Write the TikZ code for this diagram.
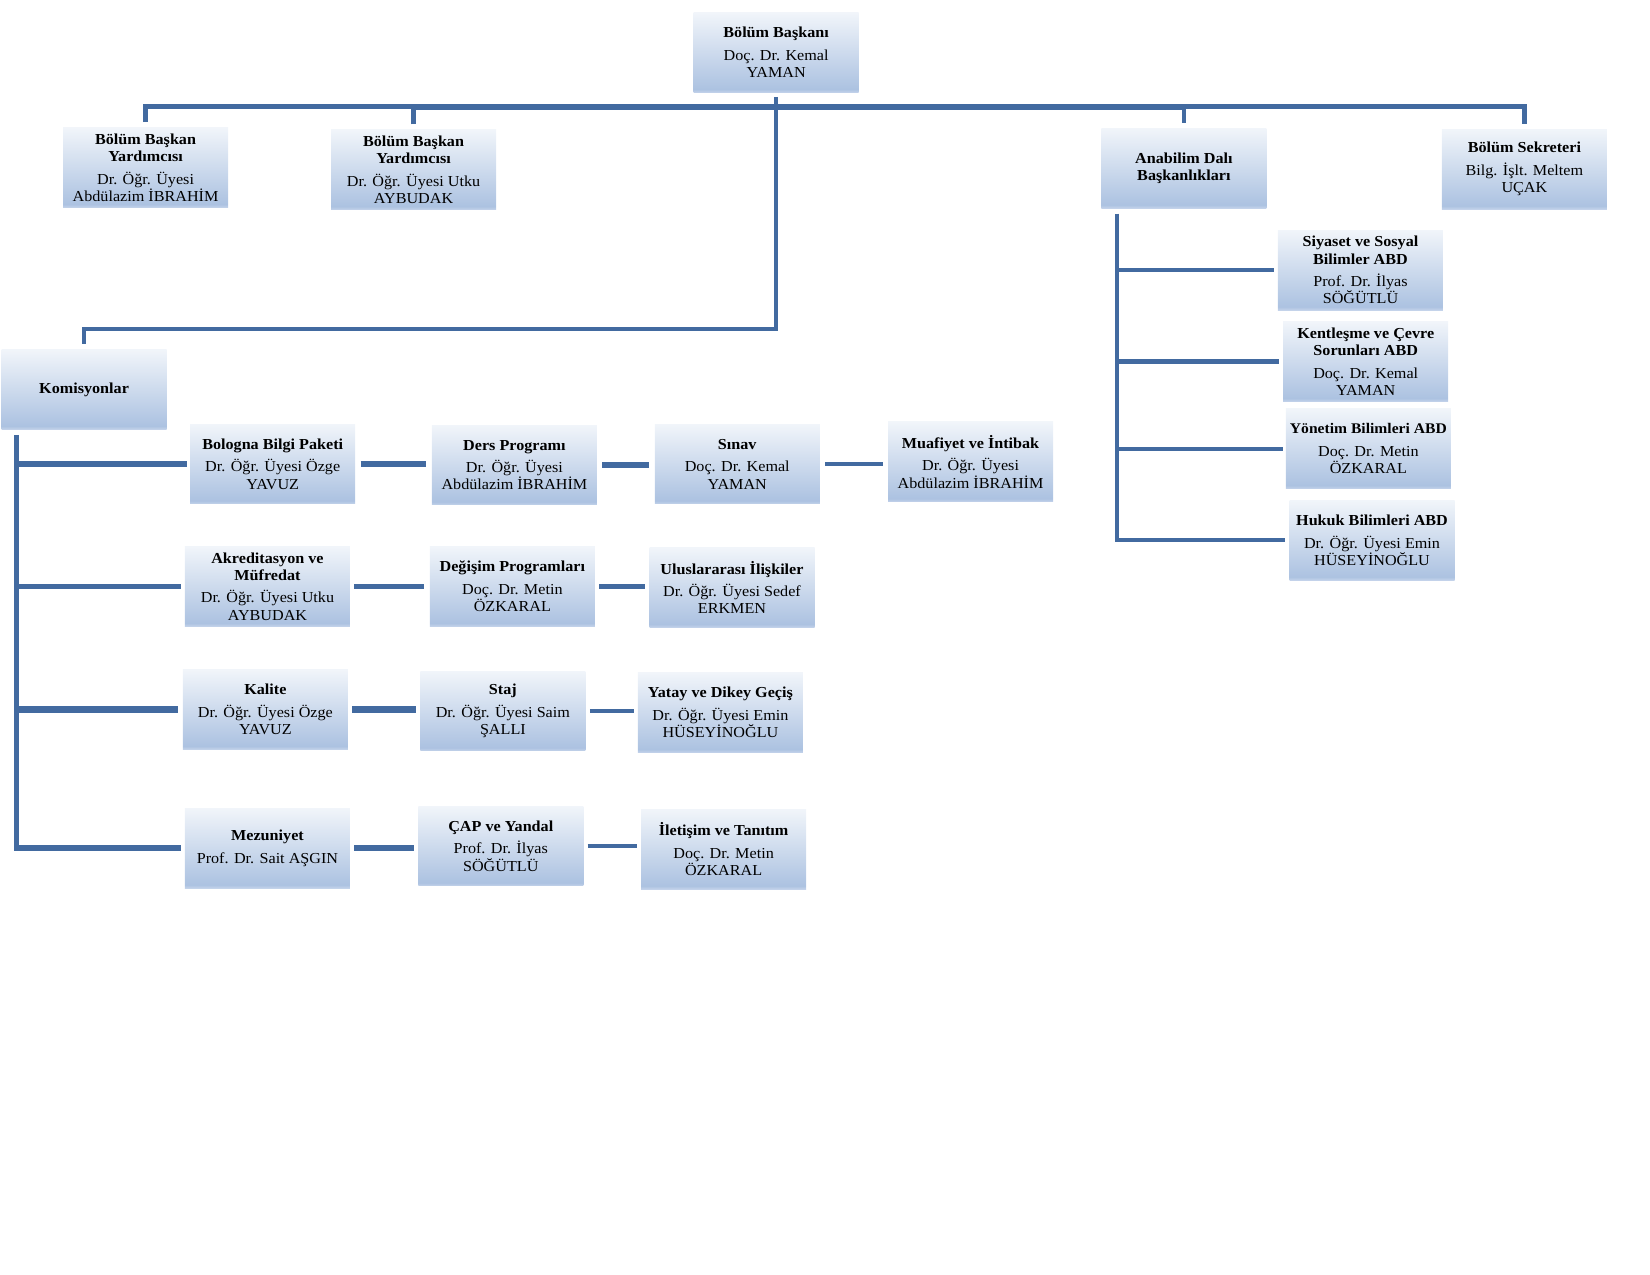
\documentclass[tikz,border=0pt]{standalone}
\usepackage{fontspec}
\setmainfont{Liberation Serif}[FakeStretch=1.06]
\definecolor{linec}{RGB}{66,106,160}
\definecolor{boxtop}{RGB}{241,245,250}
\definecolor{boxbot}{RGB}{172,194,225}
\definecolor{boxedge}{RGB}{196,211,234}
\pgfdeclareverticalshading{boxshade}{100bp}{color(0bp)=(boxedge); color(25bp)=(boxedge); color(27bp)=(boxbot); color(75bp)=(boxtop); color(100bp)=(boxtop)}
\tikzset{
  box/.style={shading=boxshade, minimum width=157, minimum height=76, inner sep=1pt,
    align=center, font=\fontsize{14.5}{16.5}\selectfont, text=black},
  conn/.style={draw=linec, line width=4pt},
  connb/.style={draw=linec, line width=6pt},
  trunk/.style={draw=linec, line width=5pt}
}
\begin{document}
\begin{tikzpicture}[x=1pt,y=-1pt]
\useasboundingbox (0,0) rectangle (1570,1213);
% nodes
\node[box] (bb)   at (738.5,50)   {\textbf{Bölüm Başkanı}\\[5pt]Doç. Dr. Kemal\\YAMAN};
\node[box] (bby1) at (138.5,159.5) {\textbf{Bölüm Başkan}\\\textbf{Yardımcısı}\\[5pt]Dr. Öğr. Üyesi\\Abdülazim İBRAHİM};
\node[box] (bby2) at (393.5,161.5) {\textbf{Bölüm Başkan}\\\textbf{Yardımcısı}\\[5pt]Dr. Öğr. Üyesi Utku\\AYBUDAK};
\node[box] (abd)  at (1126.5,160) {\textbf{Anabilim Dalı}\\\textbf{Başkanlıkları}};
\node[box] (sek)  at (1450.5,161) {\textbf{Bölüm Sekreteri}\\[5pt]Bilg. İşlt. Meltem\\UÇAK};
\node[box] (siy)  at (1294.5,257) {\textbf{Siyaset ve Sosyal}\\\textbf{Bilimler ABD}\\[5pt]Prof. Dr. İlyas\\SÖĞÜTLÜ};
\node[box] (ken)  at (1299.5,344) {\textbf{Kentleşme ve Çevre}\\\textbf{Sorunları ABD}\\[5pt]Doç. Dr. Kemal\\YAMAN};
\node[box] (yon)  at (1302,427)   {{\fontsize{14}{16.5}\selectfont\textbf{Yönetim Bilimleri ABD}}\\[5pt]Doç. Dr. Metin\\ÖZKARAL};
\node[box] (huk)  at (1305.5,514) {\textbf{Hukuk Bilimleri ABD}\\[5pt]Dr. Öğr. Üyesi Emin\\HÜSEYİNOĞLU};
\node[box] (kom)  at (80,370.5)   {\textbf{Komisyonlar}};
\node[box] (bol)  at (259.5,441.5) {\textbf{Bologna Bilgi Paketi}\\[5pt]Dr. Öğr. Üyesi Özge\\YAVUZ};
\node[box] (ders) at (489.5,442.5) {\textbf{Ders Programı}\\[5pt]Dr. Öğr. Üyesi\\Abdülazim İBRAHİM};
\node[box] (sin)  at (701.5,441.5) {\textbf{Sınav}\\[5pt]Doç. Dr. Kemal\\YAMAN};
\node[box] (muaf) at (923.5,439.5) {\textbf{Muafiyet ve İntibak}\\[5pt]Dr. Öğr. Üyesi\\Abdülazim İBRAHİM};
\node[box] (akr)  at (254.5,558)   {\textbf{Akreditasyon ve}\\\textbf{Müfredat}\\[5pt]Dr. Öğr. Üyesi Utku\\AYBUDAK};
\node[box] (deg)  at (487.5,558)   {\textbf{Değişim Programları}\\[5pt]Doç. Dr. Metin\\ÖZKARAL};
\node[box] (ulu)  at (696.5,559)   {\textbf{Uluslararası İlişkiler}\\[5pt]Dr. Öğr. Üyesi Sedef\\ERKMEN};
\node[box] (kal)  at (252.5,675)   {\textbf{Kalite}\\[5pt]Dr. Öğr. Üyesi Özge\\YAVUZ};
\node[box] (staj) at (478.5,676.5) {\textbf{Staj}\\[5pt]Dr. Öğr. Üyesi Saim\\ŞALLI};
\node[box] (yat)  at (685.5,678)   {\textbf{Yatay ve Dikey Geçiş}\\[5pt]Dr. Öğr. Üyesi Emin\\HÜSEYİNOĞLU};
\node[box] (mez)  at (254.5,807)   {\textbf{Mezuniyet}\\[5pt]Prof. Dr. Sait AŞGIN};
\node[box] (cap)  at (476.5,805)   {\textbf{ÇAP ve Yandal}\\[5pt]Prof. Dr. İlyas\\SÖĞÜTLÜ};
\node[box] (ile)  at (688.5,808)   {\textbf{İletişim ve Tanıtım}\\[5pt]Doç. Dr. Metin\\ÖZKARAL};
% top bus
\draw[conn] ([yshift=5]bby1.north) -- ++(0,-15) -| ([yshift=5]sek.north);
\draw[conn] ([yshift=5]bby2.north) -- ++(0,-15.5) -| ([yshift=5]abd.north);
\draw[conn] ([yshift=-4]bb.south) -- ++(0,221) -| ([yshift=5]kom.north);
% ABD trunk
\coordinate (abdtrunk) at ([xshift=-63.5,yshift=-5]abd.south);
\draw[conn] (abdtrunk) |- ([xshift=-4]huk.west);
\draw[conn] (abdtrunk |- siy.west) -- ([xshift=-4]siy.west);
\draw[conn] (abdtrunk |- ken.west) -- ([xshift=-4]ken.west);
\draw[conn] (abdtrunk |- yon.west) -- ([xshift=-3]yon.west);
% commissions trunk
\coordinate (komtrunk) at ([xshift=-64,yshift=-5]kom.south);
\draw[trunk] (komtrunk) |- ([xshift=-4]mez.west);
\draw[connb] (komtrunk |- bol.west) -- ([xshift=-3]bol.west);
\draw[conn]  (komtrunk |- akr.west) -- ([xshift=-4]akr.west);
\draw[connb] (komtrunk |- kal.west) -- ([xshift=-4]kal.west);
\draw[connb] (komtrunk |- mez.west) -- ([xshift=-4]mez.west);
% row links
\draw[connb] ([xshift=5]bol.east) -- ([xshift=-5]bol.east -| ders.west);
\draw[connb] ([xshift=5]ders.east) -- ([xshift=-5]ders.east -| sin.west);
\draw[conn]  ([xshift=5]sin.east) -- ([xshift=-5]sin.east -| muaf.west);
\draw[conn]  ([xshift=4]akr.east) -- ([xshift=-5]akr.east -| deg.west);
\draw[conn]  ([xshift=4]deg.east) -- ([xshift=-4]deg.east -| ulu.west);
\draw[connb] ([xshift=4]kal.east) -- ([xshift=-4]kal.east -| staj.west);
\draw[conn]  ([xshift=4]staj.east) -- ([xshift=-4]staj.east -| yat.west);
\draw[connb] ([xshift=4]mez.east) -- ([xshift=-4]mez.east -| cap.west);
\draw[conn]  ([xshift=4]cap.east) -- ([xshift=-4]cap.east -| ile.west);
\end{tikzpicture}
\end{document}
